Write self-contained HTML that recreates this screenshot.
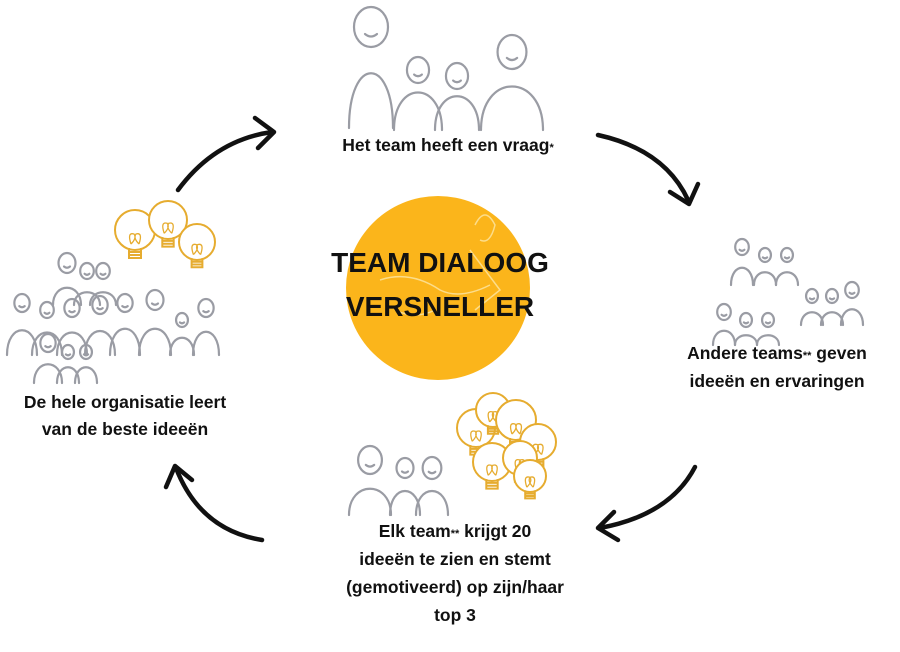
<!DOCTYPE html>
<html><head><meta charset="utf-8"><style>
html,body{margin:0;padding:0;background:#fff;width:900px;height:652px;overflow:hidden}
svg{display:block}
text{font-family:"Liberation Sans",sans-serif;font-weight:bold;fill:#111}
</style></head><body>
<svg id="s" width="900" height="652" viewBox="0 0 900 652">
<circle cx="438" cy="288" r="92" fill="#fbb51b"/>
<g fill="none" stroke="#fde7a8" stroke-width="1.5" opacity="0.8">
<path d="M475 225 q10 -20 20 0 q-5 20 -15 15 M470 250 l30 40 l-25 20 M380 280 q30 -10 60 10 q20 10 50 -5 M395 310 q20 10 40 0"/>
</g>
<text x="440" y="272" text-anchor="middle" font-size="28" letter-spacing="0">TEAM DIALOOG</text>
<text x="440" y="316" text-anchor="middle" font-size="28" letter-spacing="0">VERSNELLER</text>
<g id="people" fill="none" stroke="#9a9ca4" stroke-width="2.2" stroke-linecap="round"></g>
<g id="bulbs" fill="#fff" stroke="#e6ac2f" stroke-width="2"></g>
<g fill="none" stroke="#111" stroke-width="4.5" stroke-linecap="round" stroke-linejoin="round">
<path d="M178 190 Q215 140 272 132"/><path d="M255 118 L274 132 L258 148"/>
<path d="M598 135 Q665 150 688 200"/><path d="M670 192 L689 204 L698 184"/>
<path d="M695 467 Q670 515 600 528"/><path d="M614 512 L598 528 L618 540"/>
<path d="M262 540 Q200 530 176 468"/><path d="M166 487 L175 466 L192 480"/>
</g>
<g font-size="17.5">
<text x="448" y="151" text-anchor="middle">Het team heeft een vraag<tspan font-size="11">*</tspan></text>
<text x="777" y="359" text-anchor="middle">Andere teams<tspan font-size="11">**</tspan> geven</text>
<text x="777" y="387" text-anchor="middle">ideeën en ervaringen</text>
<text x="125" y="408" text-anchor="middle">De hele organisatie leert</text>
<text x="125" y="435" text-anchor="middle">van de beste ideeën</text>
<text x="455" y="537" text-anchor="middle">Elk team<tspan font-size="11">**</tspan> krijgt 20</text>
<text x="455" y="565" text-anchor="middle">ideeën te zien en stemt</text>
<text x="455" y="593" text-anchor="middle">(gemotiveerd) op zijn/haar</text>
<text x="455" y="621" text-anchor="middle">top 3</text>
</g>
</svg>
<script>
var NS="http://www.w3.org/2000/svg";
function el(g,t,a){var e=document.createElementNS(NS,t);for(var k in a)e.setAttribute(k,a[k]);document.getElementById(g).appendChild(e);}
function P(cx,hy,hr,w,top,bot){
 el("people","ellipse",{cx:cx,cy:hy,rx:hr*0.85,ry:hr});
 el("people","path",{d:"M"+(cx-w/2)+" "+bot+" C"+(cx-w/2)+" "+top+" "+(cx+w/2)+" "+top+" "+(cx+w/2)+" "+bot});
 el("people","path",{d:"M"+(cx-hr*0.3)+" "+(hy+hr*0.35)+" q"+(hr*0.3)+" "+(hr*0.25)+" "+(hr*0.6)+" 0"});
}
function B(cx,cy,r){
 el("bulbs","circle",{cx:cx,cy:cy,r:r});
 el("bulbs","path",{d:"M"+(cx-r*0.3)+" "+(cy+r*0.9)+" l0 "+(r*0.5)+" l"+(r*0.6)+" 0 l0 -"+(r*0.5)+" M"+(cx-r*0.3)+" "+(cy+r*1.1)+" l"+(r*0.6)+" 0 M"+(cx-r*0.3)+" "+(cy+r*1.25)+" l"+(r*0.6)+" 0",fill:"none"});
 el("bulbs","path",{d:"M"+(cx-r*0.2)+" "+(cy+r*0.7)+" q-4 -12 3 -10 q3 4 -3 10 M"+(cx+r*0.2)+" "+(cy+r*0.7)+" q4 -12 -3 -10 q-3 4 3 10",fill:"none","stroke-width":1.3});
}
// top
P(371,27,20,44,55,128);P(418,70,13,48,80,130);P(457,76,13,44,85,130);P(512,52,17,62,72,130);
// right
P(742,247,8,22,262,285);P(765,255,7,22,268,285);P(787,255,7,22,268,285);
P(812,296,7,22,308,325);P(832,296,7,22,308,325);P(852,290,8,22,304,325);
P(724,312,8,22,326,345);P(746,320,7,22,332,345);P(768,320,7,22,332,345);
// left
P(67,263,10,28,282,305);P(87,271,8,26,288,305);P(103,271,8,26,288,305);
P(22,303,9,30,322,355);P(47,310,8,30,325,355);P(72,308,9,30,325,355);P(100,305,9,30,323,355);
P(125,303,9,30,320,355);P(155,300,10,32,320,355);P(182,320,7,24,332,355);P(206,308,9,26,324,355);
P(48,343,9,28,358,383);P(68,352,7,22,362,383);P(86,352,7,22,362,383);
// bottom
P(370,460,14,42,480,515);P(405,468,10,30,483,515);P(432,468,11,32,483,515);
// bulbs
B(135,230,20);B(168,220,19);B(197,242,18);
B(476,428,19);B(493,410,17);B(516,420,20);B(538,442,18);B(492,462,19);B(520,458,17);B(530,476,16);
</script>
</body></html>
